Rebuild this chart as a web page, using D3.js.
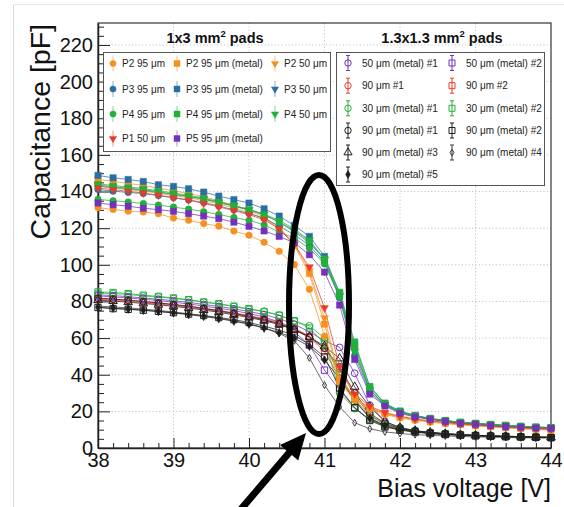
<!DOCTYPE html>
<html>
<head>
<meta charset="utf-8">
<script src="https://cdn.jsdelivr.net/npm/d3@7"></script>
<style>
  html, body { margin: 0; padding: 0; background: #fff; }
  svg { display: block; font-family: "Liberation Sans", Arial, Helvetica, sans-serif; }
</style>
</head>
<body>
<svg id="chart" width="564" height="507"></svg>
<script>
// Bias voltage steps (V)
const VOLTAGE = [38.0, 38.2, 38.4, 38.6, 38.8, 39.0, 39.2, 39.4, 39.6, 39.8,
                 40.0, 40.2, 40.4, 40.6, 40.8, 41.0, 41.2, 41.4, 41.6, 41.8,
                 42.0, 42.2, 42.4, 42.6, 42.8, 43.0, 43.2, 43.4, 43.6, 43.8, 44.0];

// Capacitance (pF), 1x3 mm2 pads
const P2_95       = [131.2,130.2,129.3,128.8,127.9,125.5,124.3,122.5,121.1,118.4,116.1,112.3,107.4,100.1,86.6,61.0,35.8,26.2,21.2,18.3,16.4,15.1,14.1,13.3,12.6,12.0,11.5,11.0,10.5,10.1,9.7];
const P2_95_METAL = [146.6,145.6,144.4,143.3,141.8,140.4,138.9,137.2,134.9,132.4,129.8,125.9,120.8,110.5,95.2,67.6,37.5,27.0,21.8,18.8,16.8,15.5,14.4,13.6,12.9,12.3,11.7,11.2,10.7,10.3,9.9];
const P2_50       = [142.8,141.9,141.0,140.2,139.0,137.8,136.6,135.0,133.2,131.0,128.4,125.2,120.0,111.5,96.8,71.0,38.5,27.6,22.0,19.0,17.0,15.6,14.6,13.8,13.1,12.5,11.9,11.4,10.9,10.5,10.1];
const P3_95       = [141.1,140.2,139.5,138.9,137.8,136.6,135.4,134.0,132.1,130.0,128.0,125.4,121.0,116.5,110.5,101.5,82.0,50.5,30.5,23.3,19.6,17.4,15.9,14.8,13.9,13.3,12.7,12.2,11.7,11.3,11.0];
const P3_95_METAL = [148.8,147.5,146.6,145.5,143.7,142.8,141.5,139.7,137.5,135.6,133.7,130.6,126.6,121.5,115.5,104.6,84.5,56.5,33.5,24.5,20.2,17.8,16.2,15.0,14.0,13.4,12.8,12.3,11.8,11.4,11.1];
const P3_50       = [143.5,142.6,141.8,141.0,139.8,138.6,137.4,136.0,134.1,132.2,130.2,127.5,123.2,118.2,112.0,103.0,83.0,53.0,31.5,23.8,19.9,17.6,16.0,14.9,14.0,13.4,12.8,12.3,11.8,11.4,11.1];
const P4_95       = [135.7,135.0,134.3,133.5,132.6,131.5,130.4,129.0,127.5,125.8,124.3,121.8,117.9,114.5,109.0,100.5,82.5,55.0,31.8,23.5,19.4,17.2,15.8,14.7,13.8,13.2,12.6,12.1,11.6,11.2,10.9];
const P4_95_METAL = [143.0,142.2,141.5,140.6,139.5,138.4,137.2,135.8,134.0,131.9,129.8,127.2,123.4,118.8,113.0,103.2,85.0,57.9,33.4,24.3,19.8,17.6,16.0,15.0,14.1,13.5,12.9,12.4,11.9,11.5,11.2];
const P4_50       = [144.2,143.3,142.5,141.6,140.4,139.2,137.9,136.4,134.5,132.4,130.2,127.6,124.3,119.5,113.5,102.8,83.0,52.5,32.0,23.8,19.6,17.4,15.9,14.8,13.9,13.3,12.7,12.2,11.7,11.3,11.0];
const P1_50       = [141.9,141.0,140.1,139.2,138.0,136.6,135.3,133.5,131.6,129.6,127.4,124.6,119.6,111.0,98.8,76.5,44.5,29.5,22.8,19.4,17.3,15.9,14.8,14.0,13.2,12.6,12.0,11.5,11.0,10.6,10.2];
const P5_95_METAL = [133.7,132.8,132.0,130.9,130.1,129.2,127.9,126.6,125.2,123.3,121.0,118.5,115.5,112.0,105.5,96.0,78.0,48.3,29.4,22.9,18.9,16.9,15.6,14.4,13.4,12.9,12.2,11.6,11.3,10.9,10.7];

// Capacitance (pF), 1.3x1.3 mm2 pads
const S50_METAL_1 = [83.6,83.2,82.6,81.9,81.2,80.4,79.5,78.4,77.3,76.0,74.5,72.8,70.6,67.5,63.5,58.5,54.9,40.8,23.4,14.5,11.0,9.4,8.5,7.8,7.3,7.0,6.7,6.4,6.2,6.0,5.9];
const S50_METAL_2 = [83.0,82.5,81.9,81.2,80.5,79.6,78.6,77.5,76.3,75.0,73.4,71.5,68.8,63.5,56.1,42.5,31.6,22.0,15.5,12.0,10.0,8.8,8.0,7.4,7.0,6.7,6.4,6.2,6.0,5.8,5.7];
const S90_1       = [81.6,81.2,80.6,79.9,79.2,78.3,77.4,76.3,75.1,73.8,72.3,70.6,68.6,65.5,61.0,54.5,43.0,28.5,18.0,13.0,10.5,9.2,8.3,7.7,7.2,6.9,6.6,6.3,6.1,5.9,5.8];
const S90_2       = [81.1,80.7,80.1,79.4,78.7,77.8,76.9,75.8,74.6,73.2,71.7,70.0,67.8,64.6,60.2,53.0,38.0,25.5,16.5,12.4,10.2,9.0,8.1,7.6,7.1,6.8,6.5,6.3,6.1,5.9,5.7];
const S30_METAL_1 = [84.6,84.3,83.8,83.0,82.4,81.6,80.8,79.6,78.5,77.2,75.7,74.7,72.5,69.2,66.7,60.0,30.0,21.5,15.5,12.0,10.2,9.0,8.2,7.6,7.1,6.8,6.5,6.3,6.1,5.9,5.7];
const S30_METAL_2 = [85.2,84.9,84.3,83.4,82.8,81.9,81.0,79.7,78.8,77.4,76.1,74.3,72.5,69.5,65.5,57.0,40.0,26.5,17.5,13.0,10.6,9.2,8.3,7.7,7.2,6.9,6.6,6.4,6.2,6.0,5.8];
const S90_METAL_1 = [81.8,81.3,80.7,80.0,79.2,78.3,77.4,76.2,74.9,73.5,71.9,70.1,67.9,64.8,60.6,54.5,44.3,30.0,19.0,13.5,10.8,9.3,8.4,7.8,7.3,6.9,6.6,6.4,6.2,6.0,5.8];
const S90_METAL_2 = [76.7,76.1,75.7,75.2,74.6,73.9,73.1,72.3,71.2,70.1,68.5,66.5,64.3,61.5,56.5,49.7,32.7,22.0,15.0,11.5,9.8,8.7,7.9,7.4,7.0,6.7,6.4,6.2,6.0,5.8,5.7];
const S90_METAL_3 = [80.7,80.2,79.6,78.9,78.2,77.3,76.4,75.3,74.1,72.7,71.2,69.5,67.4,64.5,60.7,55.5,48.9,33.4,22.5,14.5,11.2,9.5,8.5,7.8,7.3,6.9,6.6,6.4,6.2,6.0,5.8];
const S90_METAL_4 = [77.5,77.0,76.5,75.8,75.1,74.2,73.3,72.2,71.0,69.5,67.8,65.5,62.5,58.5,49.2,34.3,22.5,13.8,10.5,8.8,7.9,7.3,6.9,6.6,6.3,6.1,5.9,5.7,5.6,5.5,5.4];
const S90_METAL_5 = [76.8,76.3,75.8,75.2,74.5,73.7,72.8,71.8,70.6,69.2,67.6,65.5,63.0,60.0,55.5,48.0,38.0,26.2,16.3,12.0,10.0,8.8,8.0,7.5,7.0,6.7,6.4,6.2,6.0,5.8,5.7];

// Axis ticks
const X_TICKS = [38, 39, 40, 41, 42, 43, 44];
const Y_TICKS = [0, 20, 40, 60, 80, 100, 120, 140, 160, 180, 200, 220];

// Colours
const ORANGE = "#f5911e", BLUE = "#2a6fa3", GREEN = "#22b03a", RED = "#ea3a2c",
      PURPLE = "#7430b8", BLACK = "#1e1e1e", GREY = "#3c3c3c";

const bigPads = [
  { label: "P2 95 μm",         values: P2_95,       color: ORANGE, shape: "circle" },
  { label: "P2 95 μm (metal)", values: P2_95_METAL, color: ORANGE, shape: "square" },
  { label: "P2 50 μm",         values: P2_50,       color: ORANGE, shape: "tridown" },
  { label: "P3 95 μm",         values: P3_95,       color: BLUE,   shape: "circle" },
  { label: "P3 95 μm (metal)", values: P3_95_METAL, color: BLUE,   shape: "square" },
  { label: "P3 50 μm",         values: P3_50,       color: BLUE,   shape: "tridown" },
  { label: "P4 95 μm",         values: P4_95,       color: GREEN,  shape: "circle" },
  { label: "P4 95 μm (metal)", values: P4_95_METAL, color: GREEN,  shape: "square" },
  { label: "P4 50 μm",         values: P4_50,       color: GREEN,  shape: "tridown" },
  { label: "P1 50 μm",         values: P1_50,       color: RED,    shape: "tridown" },
  { label: "P5 95 μm (metal)", values: P5_95_METAL, color: PURPLE, shape: "square" }
];

const smallPads = [
  { label: "50 μm (metal) #1", values: S50_METAL_1, color: PURPLE, shape: "ocircle" },
  { label: "50 μm (metal) #2", values: S50_METAL_2, color: PURPLE, shape: "osquare" },
  { label: "90 μm #1",         values: S90_1,       color: RED,    shape: "ocircle" },
  { label: "90 μm #2",         values: S90_2,       color: RED,    shape: "osquare" },
  { label: "30 μm (metal) #1", values: S30_METAL_1, color: GREEN,  shape: "ocircle" },
  { label: "30 μm (metal) #2", values: S30_METAL_2, color: GREEN,  shape: "osquare" },
  { label: "90 μm (metal) #1", values: S90_METAL_1, color: BLACK,  shape: "ocircle" },
  { label: "90 μm (metal) #2", values: S90_METAL_2, color: BLACK,  shape: "osquare" },
  { label: "90 μm (metal) #3", values: S90_METAL_3, color: BLACK,  shape: "otriup" },
  { label: "90 μm (metal) #4", values: S90_METAL_4, color: GREY,   shape: "odiamond" },
  { label: "90 μm (metal) #5", values: S90_METAL_5, color: BLACK,  shape: "fdiamond" }
];

const svg = d3.select("#chart");
const X0 = 98, X1 = 551, Y0 = 23, Y1 = 448;

const x = d3.scaleLinear().domain([38, 44]).range([X0, X1]);
const y = d3.scaleLinear().domain([0, 232]).range([Y1, Y0]);

// page edge lines
svg.append("line").attr("x1", 13.5).attr("x2", 13.5).attr("y1", 4.5).attr("y2", 507)
   .attr("stroke", "#d8d8d8");
svg.append("line").attr("x1", 13.5).attr("x2", 564).attr("y1", 4.5).attr("y2", 4.5)
   .attr("stroke", "#e6e6e6");

// grid
const grid = svg.append("g").attr("stroke", "#c4c4c4").attr("stroke-dasharray", "1.2,2.2")
  .attr("stroke-width", 1);
X_TICKS.slice(1, -1).forEach(v => {
  grid.append("line").attr("x1", x(v)).attr("x2", x(v)).attr("y1", Y0).attr("y2", Y1);
});
Y_TICKS.slice(1).forEach(v => {
  grid.append("line").attr("x1", X0).attr("x2", X1).attr("y1", y(v)).attr("y2", y(v));
});

// frame
svg.append("rect").attr("x", X0).attr("y", Y0).attr("width", X1 - X0).attr("height", Y1 - Y0)
   .attr("fill", "none").attr("stroke", "#222").attr("stroke-width", 1.1);

// axes
const xMinor = d3.range(0, 31).map(i => 38 + i * 0.2).filter(v => Math.abs(v - Math.round(v)) > 1e-6);
svg.append("g").attr("transform", `translate(0,${Y1})`)
  .call(d3.axisBottom(x).tickValues(xMinor).tickSizeInner(-5).tickSizeOuter(0).tickFormat(""))
  .call(g => g.select(".domain").remove())
  .selectAll("line").attr("stroke", "#222");
const xAxis = svg.append("g").attr("transform", `translate(0,${Y1})`)
  .call(d3.axisBottom(x).tickValues(X_TICKS).tickSizeInner(-10).tickSizeOuter(0).tickPadding(5)
        .tickFormat(d3.format("d")));
xAxis.select(".domain").attr("stroke", "#222").attr("stroke-width", 1.5);
xAxis.selectAll("line").attr("stroke", "#222");
xAxis.selectAll("text").attr("font-size", 20).attr("fill", "#111")
  .attr("font-family", "Liberation Sans, Arial, sans-serif");

const yMinor = d3.range(0, 47).map(i => i * 5).filter(v => v % 20 !== 0 && v <= 232);
svg.append("g").attr("transform", `translate(${X0},0)`)
  .call(d3.axisLeft(y).tickValues(yMinor).tickSizeInner(-6).tickSizeOuter(0).tickFormat(""))
  .call(g => g.select(".domain").remove())
  .selectAll("line").attr("stroke", "#222");
const yAxis = svg.append("g").attr("transform", `translate(${X0},0)`)
  .call(d3.axisLeft(y).tickValues(Y_TICKS).tickSizeInner(-12).tickSizeOuter(0).tickPadding(5)
        .tickFormat(d3.format("d")));
yAxis.select(".domain").attr("stroke", "#222").attr("stroke-width", 1.5);
yAxis.selectAll("line").attr("stroke", "#222");
yAxis.selectAll("text").attr("font-size", 20).attr("fill", "#111")
  .attr("font-family", "Liberation Sans, Arial, sans-serif");

// axis titles
svg.append("text").attr("x", X1).attr("y", 497).attr("text-anchor", "end")
   .attr("font-size", 25).attr("fill", "#111").text("Bias voltage [V]");
svg.append("text").attr("transform", "translate(50,24) rotate(-90)").attr("text-anchor", "end")
   .attr("font-size", 28.5).attr("fill", "#111").text("Capacitance [pF]");

// marker factory
function marker(sel, shape, color, scale) {
  const k = scale || 1;
  const sym = d3.symbol();
  let filled = true, rot = 0;
  switch (shape) {
    case "circle":   sym.type(d3.symbolCircle).size(34 * k); break;
    case "square":   sym.type(d3.symbolSquare).size(40 * k); break;
    case "tridown":  sym.type(d3.symbolTriangle).size(26 * k); rot = 180; break;
    case "ocircle":  sym.type(d3.symbolCircle).size(36 * k); filled = false; break;
    case "osquare":  sym.type(d3.symbolSquare).size(40 * k); filled = false; break;
    case "otriup":   sym.type(d3.symbolTriangle).size(32 * k); filled = false; break;
    case "odiamond": sym.type(d3.symbolDiamond).size(14 * k); filled = false; break;
    case "fdiamond": sym.type(d3.symbolDiamond).size(22 * k); break;
  }
  return sel.append("path").attr("d", sym())
    .attr("transform", rot ? `rotate(${rot})` : null)
    .attr("fill", filled ? color : "#fff")
    .attr("fill-opacity", filled ? 1 : 0)
    .attr("stroke", color)
    .attr("stroke-opacity", filled ? 0.45 : 1)
    .attr("stroke-width", 1);
}

const line = d3.line().x((d, i) => x(VOLTAGE[i])).y(d => y(d));

function drawSeries(list) {
  list.forEach(s => {
    svg.append("path").datum(s.values).attr("d", line)
      .attr("fill", "none").attr("stroke", s.color).attr("stroke-opacity", 0.75).attr("stroke-width", 1);
  });
  list.forEach(s => {
    const g = svg.append("g");
    s.values.forEach((v, i) => {
      const p = g.append("g").attr("transform", `translate(${x(VOLTAGE[i])},${y(v)})`);
      marker(p, s.shape, s.color);
    });
  });
}

drawSeries(smallPads);
drawSeries(bigPads);

// legend: 1x3 mm2 pads
svg.append("rect").attr("x", 103.5).attr("y", 52.5).attr("width", 227).attr("height", 99)
   .attr("fill", "#fff").attr("stroke", "#555").attr("stroke-width", 1);
const leftCols = [113, 177, 275];
const leftRows = [63.5, 89, 114, 138.5];
const leftOrder = [
  [0, 1, 2], [3, 4, 5], [6, 7, 8], [9, 10, null]
];
leftOrder.forEach((row, r) => row.forEach((idx, c) => {
  if (idx === null) return;
  const s = bigPads[idx];
  const cx = leftCols[c], cy = leftRows[r];
  svg.append("line").attr("x1", cx).attr("x2", cx).attr("y1", cy - 8).attr("y2", cy + 8)
     .attr("stroke", s.color).attr("stroke-opacity", 0.55).attr("stroke-width", 1);
  const g = svg.append("g").attr("transform", `translate(${cx},${cy})`);
  marker(g, s.shape, s.color, 0.9);
  svg.append("text").attr("x", cx + 9).attr("y", cy + 3.6).attr("font-size", 10).attr("fill", "#222")
     .text(s.label);
}));

// legend: 1.3x1.3 mm2 pads
svg.append("rect").attr("x", 336.5).attr("y", 52.5).attr("width", 208).attr("height", 133)
   .attr("fill", "#fff").attr("stroke", "#555").attr("stroke-width", 1);
const rightCols = [348, 452];
const rightRows = [63, 85.7, 108.3, 130.5, 152.5, 174.5];
smallPads.forEach((s, i) => {
  const r = Math.floor(i / 2), c = i % 2;
  const cx = rightCols[c], cy = rightRows[r];
  svg.append("line").attr("x1", cx).attr("x2", cx).attr("y1", cy - 7.5).attr("y2", cy + 7.5)
     .attr("stroke", s.color).attr("stroke-width", 1);
  [cy - 7.5, cy + 7.5].forEach(yy => {
    svg.append("line").attr("x1", cx - 2).attr("x2", cx + 2).attr("y1", yy).attr("y2", yy)
       .attr("stroke", s.color).attr("stroke-width", 1);
  });
  const g = svg.append("g").attr("transform", `translate(${cx},${cy})`);
  marker(g, s.shape, s.color, 0.9);
  svg.append("text").attr("x", cx + 14).attr("y", cy + 3.6).attr("font-size", 10).attr("fill", "#222")
     .text(s.label);
});

// group headers
function header(cx, parts) {
  const t = svg.append("text").attr("x", cx).attr("y", 43).attr("text-anchor", "middle")
    .attr("font-size", 14.5).attr("font-weight", "bold").attr("fill", "#111");
  t.append("tspan").text(parts[0]);
  t.append("tspan").attr("dy", -6).attr("font-size", 9.5).text("2");
  t.append("tspan").attr("dy", 6).text(parts[1]);
}
header(215, ["1x3 mm", " pads"]);
header(442, ["1.3x1.3 mm", " pads"]);

// annotation: ellipse around the breakdown region and pointing arrow
svg.append("ellipse").attr("cx", 319).attr("cy", 304.5).attr("rx", 30).attr("ry", 129.5)
   .attr("fill", "none").attr("stroke", "#000").attr("stroke-width", 6);
const tip = [306, 433], tail = [236, 515];
const dx = tip[0] - tail[0], dy = tip[1] - tail[1], len = Math.hypot(dx, dy);
const ux = dx / len, uy = dy / len, nx = -uy, ny = ux;
const headLen = 26, headHalf = 12;
const base = [tip[0] - headLen * ux, tip[1] - headLen * uy];
svg.append("line").attr("x1", tail[0]).attr("y1", tail[1]).attr("x2", base[0] + ux * 2).attr("y2", base[1] + uy * 2)
   .attr("stroke", "#000").attr("stroke-width", 7);
svg.append("path")
   .attr("d", `M${tip[0]},${tip[1]} L${base[0] + headHalf * nx},${base[1] + headHalf * ny} L${base[0] - headHalf * nx},${base[1] - headHalf * ny} Z`)
   .attr("fill", "#000");
</script>
</body>
</html>
